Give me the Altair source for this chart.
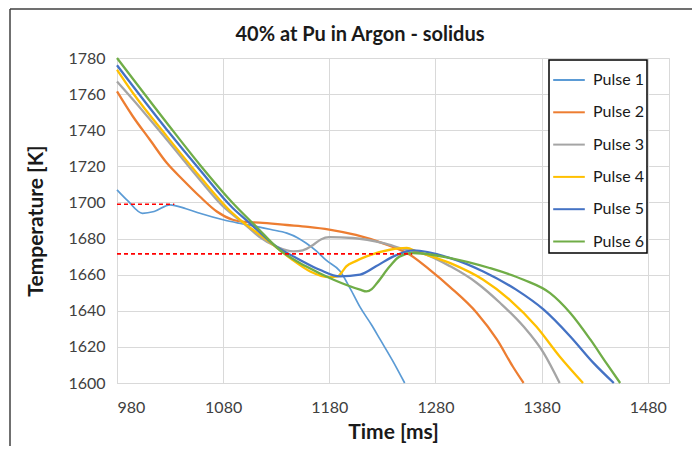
import altair as alt
import pandas as pd

series_names = ["Pulse 1", "Pulse 2", "Pulse 3", "Pulse 4", "Pulse 5", "Pulse 6"]
series_colors = ["#5B9BD5", "#ED7D31", "#A5A5A5", "#FFC000", "#4472C4", "#70AD47"]

t_p1 = [980, 990, 1004, 1015, 1030, 1045, 1058, 1080, 1095, 1111, 1125, 1140, 1150, 1158, 1168, 1177, 1190, 1200, 1209, 1220, 1228, 1240, 1251]
T_p1 = [1707, 1701, 1694, 1695, 1698.7, 1696.5, 1694, 1690.4, 1688.5, 1686.7, 1685, 1683, 1680.5, 1677.5, 1673, 1668, 1662, 1652, 1642, 1632, 1624, 1612, 1600]

t_p2 = [980, 995, 1011, 1027, 1042, 1058, 1074, 1089, 1100, 1114, 1140, 1160, 1180, 1205, 1230, 1256, 1275, 1294, 1319, 1338, 1353, 1363]
T_p2 = [1761.5, 1747.6, 1734.7, 1721.8, 1712.6, 1703.3, 1695, 1690.4, 1689.2, 1688.8, 1687.5, 1686.5, 1685, 1682, 1677.5, 1671, 1662.5, 1653, 1638.8, 1624, 1609, 1600]

t_p3 = [980, 995, 1027, 1058, 1080, 1099, 1114, 1130, 1146, 1155, 1165, 1172, 1180, 1202, 1231, 1253, 1262, 1294, 1319, 1341, 1363, 1382, 1397]
T_p3 = [1767, 1757, 1734.7, 1712.6, 1697.8, 1688.6, 1681, 1675.6, 1672.9, 1673.5, 1676.6, 1679.5, 1680.8, 1680.3, 1677.5, 1673.8, 1672.9, 1664.6, 1655.4, 1644.3, 1631.3, 1616.6, 1600]

t_p4 = [980, 995, 1027, 1058, 1089, 1096, 1121, 1143, 1162, 1180, 1188, 1192, 1196, 1205, 1215, 1237, 1253, 1262, 1294, 1325, 1350, 1375, 1397, 1419]
T_p4 = [1773.5, 1760.6, 1736.6, 1714.4, 1694, 1690.4, 1679.3, 1669.2, 1661.8, 1658.6, 1659, 1661.5, 1664.6, 1667.5, 1670.1, 1673.8, 1674.8, 1672.9, 1666.4, 1657.2, 1646.1, 1631.3, 1614.7, 1600]

t_p5 = [980, 1027, 1058, 1089, 1105, 1130, 1152, 1171, 1190, 1209, 1224, 1240, 1259, 1294, 1325, 1356, 1382, 1407, 1429, 1448]
T_p5 = [1776, 1740.3, 1718.1, 1696.9, 1688.6, 1675.6, 1668.3, 1662.7, 1659, 1660, 1664.6, 1670, 1673.4, 1669.2, 1661.8, 1651.7, 1640.6, 1625.8, 1611, 1600]

t_p6 = [980, 1027, 1058, 1089, 1111, 1133, 1158, 1184, 1209, 1215, 1220, 1225, 1237, 1246, 1259, 1294, 1331, 1363, 1388, 1407, 1426, 1441, 1454]
T_p6 = [1780, 1744, 1720.9, 1699.7, 1686.7, 1673.8, 1664.6, 1657.2, 1651.7, 1650.7, 1652, 1655.4, 1664.6, 1670, 1672, 1669.2, 1663.7, 1657.2, 1649.8, 1638.8, 1624, 1611, 1600]

ref_start = [980, 980]
ref_end = [1034, 1258]
ref_value = [1699, 1671.5]

x_ticks = [980, 1080, 1180, 1280, 1380, 1480]
y_ticks = [1600, 1620, 1640, 1660, 1680, 1700, 1720, 1740, 1760, 1780]

chart_title = "40% at Pu in Argon - solidus"

all_t = [t_p1, t_p2, t_p3, t_p4, t_p5, t_p6]
all_T = [T_p1, T_p2, T_p3, T_p4, T_p5, T_p6]
rows = []
for i, (name, ts, Ts) in enumerate(zip(series_names, all_t, all_T)):
    for t, T in zip(ts, Ts):
        rows.append({"series": name, "order": i, "t": t, "T": T})
df = pd.DataFrame(rows)
ref_df = pd.DataFrame({"t": ref_start, "t_end": ref_end, "T": ref_value})

FONT = "Lato"

x_scale = alt.Scale(domain=[980, 1500], nice=False, zero=False)
y_scale = alt.Scale(domain=[1600, 1780], nice=False, zero=False)
x_axis = alt.Axis(values=x_ticks, format="d", labelOverlap=False,
                  title="Time [ms]", labelPadding=16,
                  titleY=49, titleBaseline="middle")
y_axis = alt.Axis(values=y_ticks, format="d", labelOverlap=False,
                  title="Temperature [K]", labelPadding=12,
                  titleX=-81, titleBaseline="middle")

lines = alt.Chart(df).mark_line(interpolate="monotone").transform_calculate(
    w="datum.series == 'Pulse 1' ? 1.7 : 2.3"
).encode(
    x=alt.X("t:Q", scale=x_scale, axis=x_axis),
    y=alt.Y("T:Q", scale=y_scale, axis=y_axis),
    color=alt.Color("series:N", scale=alt.Scale(domain=series_names, range=series_colors),
                    legend=alt.Legend(title=None)),
    strokeWidth=alt.StrokeWidth("w:Q", scale=None, legend=None),
    detail="series:N",
    order="t:Q",
)

refs = alt.Chart(ref_df).mark_rule(color="#FF0000", strokeDash=[4, 3], strokeWidth=1.6).encode(
    x=alt.X("t:Q", scale=x_scale, axis=x_axis),
    x2="t_end:Q",
    y=alt.Y("T:Q", scale=y_scale, axis=y_axis),
)

single = alt.Data(values=[{"k": 1}])
left_border = alt.Chart(single).mark_rule(color="#404040", strokeWidth=1.5).encode(
    x=alt.value(-107), y=alt.value(-49), y2=alt.value(388)
)
top_border = alt.Chart(single).mark_rule(color="#404040", strokeWidth=1.5).encode(
    x=alt.value(-107), x2=alt.value(575), y=alt.value(-49)
)
title_text = alt.Chart(single).mark_text(
    text=chart_title, font=FONT, fontSize=20, fontWeight="bold", color="#1a1a1a",
    align="center", baseline="middle"
).encode(x=alt.value(243), y=alt.value(-23))

chart = alt.layer(lines, refs, left_border, top_border, title_text).properties(
    width=552,
    height=325,
    autosize=alt.AutoSizeParams(type="none"),
    padding={"left": 109, "top": 50, "right": 23, "bottom": 63},
).configure_view(
    stroke="#D9D9D9", strokeWidth=1
).configure_axis(
    labelFont=FONT, labelFontSize=16, labelColor="#404040", labelOverlap=False,
    titleFont=FONT, titleFontSize=21, titleFontWeight="bold", titleColor="#1a1a1a",
    grid=True, gridColor="#D9D9D9", gridWidth=1,
    ticks=False, domainColor="#D9D9D9", domainWidth=1,
).configure_legend(
    orient="none", legendX=432, legendY=2,
    strokeColor="#000000", strokeWidth=1.5, fillColor="#FFFFFF",
    padding=3, symbolType="stroke", symbolSize=1000, symbolStrokeWidth=2,
    labelFont=FONT, labelFontSize=16, labelColor="#1a1a1a", labelOffset=7,
    rowPadding=7.3,
)

chart.save("out.html", embed_options={"renderer": "svg", "actions": False})
